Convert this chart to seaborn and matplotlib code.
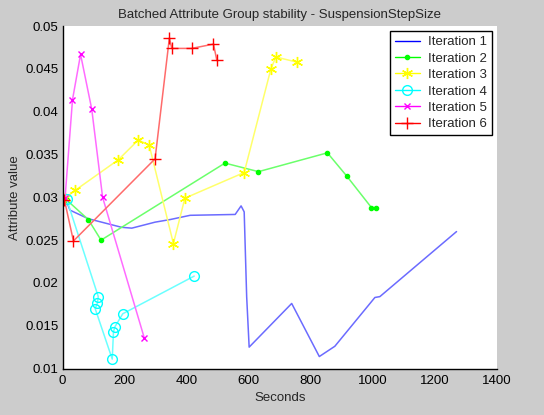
import pandas as pd
import matplotlib
matplotlib.use("Agg")
import matplotlib.pyplot as plt
from matplotlib.lines import Line2D
from matplotlib.colors import to_rgb
import seaborn as sns

# values
it1_sec = [13, 24, 83, 190, 223, 298, 346, 411, 556, 575, 585, 593, 601, 738, 827, 877, 1006, 1022, 1269]
it1_val = [0.0295, 0.0285, 0.0275, 0.0265, 0.0264, 0.0271, 0.0274, 0.0279, 0.0280, 0.0290, 0.0283,
           0.0184, 0.0125, 0.0176, 0.0114, 0.0126, 0.0183, 0.0184, 0.0260]

it2_sec = [13, 83, 124, 523, 631, 853, 915, 995, 1008]
it2_val = [0.0297, 0.0274, 0.0250, 0.0340, 0.0330, 0.0352, 0.0325, 0.0288, 0.0288]

it3_sec = [8, 40, 180, 244, 279, 357, 394, 585, 671, 687, 754]
it3_val = [0.0299, 0.0308, 0.0344, 0.0367, 0.0361, 0.0246, 0.0299, 0.0329, 0.0450, 0.0464, 0.0458]

it4_sec = [13, 115, 112, 105, 160, 164, 169, 194, 424]
it4_val = [0.0298, 0.0184, 0.0176, 0.0170, 0.0111, 0.0143, 0.0149, 0.0164, 0.0208]

it5_sec = [8, 32, 58, 94, 129, 263]
it5_val = [0.0299, 0.0414, 0.0467, 0.0403, 0.0300, 0.0136]

it6_sec = [6, 35, 298, 344, 352, 416, 486, 497]
it6_val = [0.0297, 0.0249, 0.0345, 0.0486, 0.0474, 0.0474, 0.0479, 0.0460]

labels = ["Iteration 1", "Iteration 2", "Iteration 3", "Iteration 4", "Iteration 5", "Iteration 6"]
all_sec = [it1_sec, it2_sec, it3_sec, it4_sec, it5_sec, it6_sec]
all_val = [it1_val, it2_val, it3_val, it4_val, it5_val, it6_val]

colors = ["#0000ff", "#00ff00", "#ffff00", "#00ffff", "#ff00ff", "#ff0000"]
markers = [None, ".", (6, 2, 0), "o", "x", "+"]
msizes = [0, 6, 8, 7, 5, 9]

rows = []
for lab, xs, ys in zip(labels, all_sec, all_val):
    for k, (x, y) in enumerate(zip(xs, ys)):
        rows.append({"Iteration": lab, "step": k, "Seconds": x, "value": y})
data = pd.DataFrame(rows)

sns.set_style("white")
plt.rcParams['font.family'] = ['Liberation Sans', 'DejaVu Sans']
plt.rcParams['font.size'] = 9.5

fig = plt.figure(figsize=(5.44, 4.15), dpi=100, facecolor="#cccccc")
ax = fig.add_axes([0.115, 0.112, 0.799, 0.825])
ax.set_facecolor("white")


def light(c, f=0.42):
    r, g, b = to_rgb(c)
    return (r + (1 - r) * f, g + (1 - g) * f, b + (1 - b) * f)


handles = []
for lab, col, mk, ms in zip(labels, colors, markers, msizes):
    sub = data[data["Iteration"] == lab]
    sns.lineplot(data=sub, x="Seconds", y="value", sort=False, estimator=None, ax=ax,
                 color=light(col), linewidth=1.1, legend=False)
    if mk is not None:
        ax.plot(sub["Seconds"], sub["value"], linestyle="none", marker=mk, markersize=ms,
                markerfacecolor="none" if mk == "o" else col,
                markeredgecolor=col, markeredgewidth=1.0)
    handles.append(Line2D([0], [0], color=col, linewidth=1.0, marker=mk, markersize=ms,
                          markerfacecolor="none" if mk == "o" else col,
                          markeredgecolor=col))

ax.set_xlim(0, 1400)
ax.set_ylim(0.01, 0.05)
ax.set_xticks(range(0, 1401, 200))
ax.set_yticks([0.01, 0.015, 0.02, 0.025, 0.03, 0.035, 0.04, 0.045, 0.05])
ax.set_yticklabels(["0.01", "0.015", "0.02", "0.025", "0.03", "0.035", "0.04", "0.045", "0.05"])
ax.tick_params(direction="in", length=4, width=1, colors="black", labelsize=9.5,
               top=False, right=False)
ax.tick_params(axis="x", pad=5)
ax.tick_params(axis="y", pad=3)
for s in ["top", "right"]:
    ax.spines[s].set_visible(False)
for s in ["left", "bottom"]:
    ax.spines[s].set_color("black")
    ax.spines[s].set_linewidth(1)

ax.set_xlabel("Seconds", fontsize=9.5, labelpad=3)
ax.set_ylabel("Attribute value", fontsize=9.5, labelpad=3)
ax.set_title("Batched Attribute Group stability - SuspensionStepSize", fontsize=9.5, pad=6)

leg = ax.legend(handles, labels, loc="upper right", bbox_to_anchor=(0.987, 0.985),
                fancybox=False, framealpha=1, edgecolor="black", handlelength=1.9,
                fontsize=9.5, borderpad=0.35, labelspacing=0.32, handletextpad=0.6,
                borderaxespad=0)
leg.get_frame().set_linewidth(1)

fig.savefig("out.png", dpi=100, facecolor=fig.get_facecolor())
